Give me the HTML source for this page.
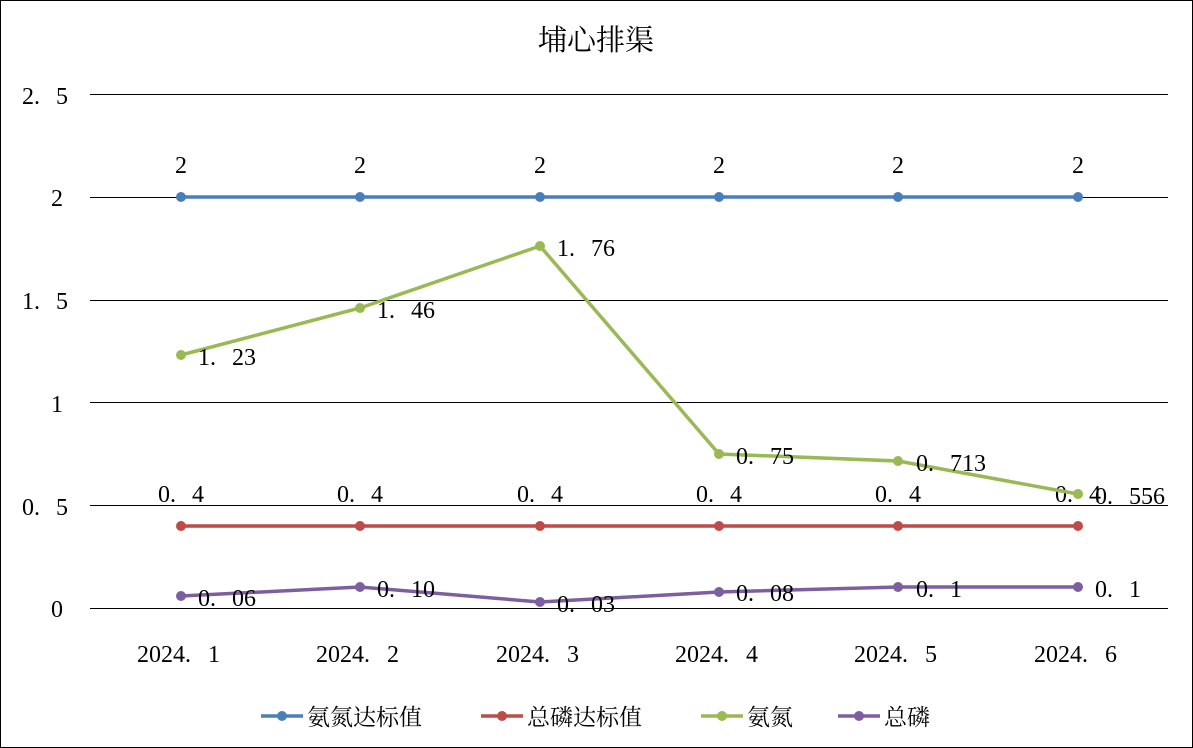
<!DOCTYPE html>
<html><head><meta charset="utf-8"><style>
html,body{margin:0;padding:0;background:#fff}
svg{display:block}
text{font-family:"Liberation Serif","Noto Serif CJK SC",serif;font-size:24px;fill:#000}
.cjk{font-family:"Liberation Serif","Noto Serif CJK SC",serif;font-size:23px}
</style></head><body>
<svg width="1193" height="748" viewBox="0 0 1193 748" xmlns="http://www.w3.org/2000/svg">
<rect x="0.5" y="0.5" width="1192" height="747" fill="#fff" stroke="#000"/>
<text x="596" y="50" text-anchor="middle" class="cjk" style="font-size:29px">埔心排渠</text>
<g stroke="#000" stroke-width="1">
<line x1="90" y1="94.5" x2="1168" y2="94.5"/>
<line x1="90" y1="197.5" x2="1168" y2="197.5"/>
<line x1="90" y1="300.5" x2="1168" y2="300.5"/>
<line x1="90" y1="402.5" x2="1168" y2="402.5"/>
<line x1="90" y1="505.5" x2="1168" y2="505.5"/>
<line x1="90" y1="608.5" x2="1168" y2="608.5"/>
</g>
<g>
<text x="22" y="104">2.<tspan dx="16">5</tspan></text>
<text x="51" y="206">2</text>
<text x="22" y="309">1.<tspan dx="16">5</tspan></text>
<text x="51" y="412">1</text>
<text x="22" y="515">0.<tspan dx="16">5</tspan></text>
<text x="51" y="617">0</text>
</g>
<g>
<text x="137" y="662">2024.<tspan dx="17">1</tspan></text><text x="316" y="662">2024.<tspan dx="17">2</tspan></text><text x="496" y="662">2024.<tspan dx="17">3</tspan></text>
<text x="675" y="662">2024.<tspan dx="17">4</tspan></text><text x="854" y="662">2024.<tspan dx="17">5</tspan></text><text x="1034" y="662">2024.<tspan dx="17">6</tspan></text>
</g>
<polyline points="181,197 360,197 540,197 719,197 898,197 1078,197" fill="none" stroke="#4a7ebb" stroke-width="3.5"/>
<g fill="#4a7ebb"><circle cx="181" cy="197" r="5"/><circle cx="360" cy="197" r="5"/><circle cx="540" cy="197" r="5"/><circle cx="719" cy="197" r="5"/><circle cx="898" cy="197" r="5"/><circle cx="1078" cy="197" r="5"/></g>
<g text-anchor="middle"><text x="181" y="173">2</text><text x="360" y="173">2</text><text x="540" y="173">2</text><text x="719" y="173">2</text><text x="898" y="173">2</text><text x="1078" y="173">2</text></g>
<polyline points="181,526 360,526 540,526 719,526 898,526 1078,526" fill="none" stroke="#be4b48" stroke-width="3.5"/>
<g fill="#be4b48"><circle cx="181" cy="526" r="5"/><circle cx="360" cy="526" r="5"/><circle cx="540" cy="526" r="5"/><circle cx="719" cy="526" r="5"/><circle cx="898" cy="526" r="5"/><circle cx="1078" cy="526" r="5"/></g>
<g><text x="158" y="502">0.<tspan dx="16">4</tspan></text><text x="337" y="502">0.<tspan dx="16">4</tspan></text><text x="517" y="502">0.<tspan dx="16">4</tspan></text><text x="696" y="502">0.<tspan dx="16">4</tspan></text><text x="875" y="502">0.<tspan dx="16">4</tspan></text><text x="1055" y="502">0.<tspan dx="16">4</tspan></text></g>
<polyline points="181,355 360,308 540,246 719,454 898,461 1078,494" fill="none" stroke="#98b954" stroke-width="3.5"/>
<g fill="#98b954"><circle cx="181" cy="355" r="5"/><circle cx="360" cy="308" r="5"/><circle cx="540" cy="246" r="5"/><circle cx="719" cy="454" r="5"/><circle cx="898" cy="461" r="5"/><circle cx="1078" cy="494" r="5"/></g>
<text x="198" y="365">1.<tspan dx="16">23</tspan></text><text x="377" y="318">1.<tspan dx="16">46</tspan></text><text x="557" y="256">1.<tspan dx="16">76</tspan></text><text x="736" y="464">0.<tspan dx="16">75</tspan></text><text x="916" y="471">0.<tspan dx="16">713</tspan></text><text x="1095" y="504">0.<tspan dx="16">556</tspan></text>
<polyline points="181,596 360,587 540,602 719,592 898,587 1078,587" fill="none" stroke="#7d5fa0" stroke-width="3.5"/>
<g fill="#7d5fa0"><circle cx="181" cy="596" r="5"/><circle cx="360" cy="587" r="5"/><circle cx="540" cy="602" r="5"/><circle cx="719" cy="592" r="5"/><circle cx="898" cy="587" r="5"/><circle cx="1078" cy="587" r="5"/></g>
<text x="198" y="606">0.<tspan dx="16">06</tspan></text><text x="377" y="597">0.<tspan dx="16">10</tspan></text><text x="557" y="612">0.<tspan dx="16">03</tspan></text><text x="736" y="601">0.<tspan dx="16">08</tspan></text><text x="916" y="597">0.<tspan dx="16">1</tspan></text><text x="1095" y="597">0.<tspan dx="16">1</tspan></text>
<g stroke-width="3.5">
<line x1="261" y1="716" x2="303" y2="716" stroke="#4a7ebb"/><circle cx="282" cy="716" r="5" fill="#4a7ebb"/>
<line x1="481" y1="716" x2="523" y2="716" stroke="#be4b48"/><circle cx="502" cy="716" r="5" fill="#be4b48"/>
<line x1="701" y1="716" x2="743" y2="716" stroke="#98b954"/><circle cx="722" cy="716" r="5" fill="#98b954"/>
<line x1="838" y1="716" x2="880" y2="716" stroke="#7d5fa0"/><circle cx="859" cy="716" r="5" fill="#7d5fa0"/>
</g>
<g><text x="307" y="725" class="cjk">氨氮达标值</text><text x="527" y="725" class="cjk">总磷达标值</text><text x="747" y="725" class="cjk">氨氮</text><text x="884" y="725" class="cjk">总磷</text></g>
</svg>
</body></html>
